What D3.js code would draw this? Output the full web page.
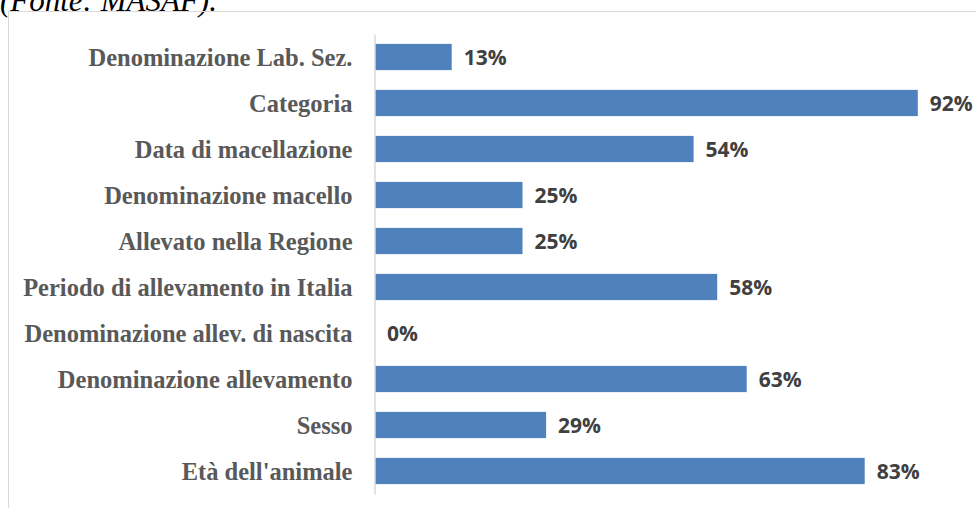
<!DOCTYPE html>
<html>
<head>
<meta charset="utf-8">
<script src="https://cdn.jsdelivr.net/npm/d3@7"></script>
<style>
  body { margin: 0; background: #fff; }
  svg { display: block; }
</style>
</head>
<body>
<svg id="chart"></svg>
<script>
const categories = [
  "Denominazione Lab. Sez.",
  "Categoria",
  "Data di macellazione",
  "Denominazione macello",
  "Allevato nella Regione",
  "Periodo di allevamento in Italia",
  "Denominazione allev. di nascita",
  "Denominazione allevamento",
  "Sesso",
  "Età dell'animale"
];
const values = [13, 92, 54, 25, 25, 58, 0, 63, 29, 83];
const sourceNote = "(Fonte: MASAF).";

const width = 976, height = 508;
const svg = d3.select("#chart").attr("width", width).attr("height", height);

// caption cut off at the top of the picture
svg.append("text")
  .attr("x", 0).attr("y", 11)
  .attr("font-family", "Liberation Serif")
  .attr("font-style", "italic")
  .attr("font-size", 31)
  .attr("fill", "#000")
  .text(sourceNote);

// chart frame
svg.append("rect")
  .attr("x", 8.5).attr("y", 11.5)
  .attr("width", 980).attr("height", 520)
  .attr("fill", "none")
  .attr("stroke", "#d9d9d9");

const x = d3.scaleLinear().domain([0, 100]).range([375, 965]);
const y = d3.scaleBand().domain(categories).range([34, 494]).paddingInner(0.43).paddingOuter(0.215);

const data = categories.map((c, i) => ({ name: c, value: values[i] }));

svg.append("g")
  .selectAll("rect")
  .data(data)
  .join("rect")
  .attr("x", x(0))
  .attr("y", d => y(d.name))
  .attr("width", d => x(d.value) - x(0))
  .attr("height", y.bandwidth())
  .attr("fill", "#4f81bd");

const yAxis = svg.append("g")
  .attr("transform", `translate(${x(0) - 0.5},0)`)
  .call(d3.axisLeft(y).tickSize(0).tickPadding(22));
yAxis.select(".domain").attr("stroke", "#d9d9d9").attr("stroke-width", 1.5);
yAxis.selectAll("text")
  .attr("dy", "0.36em")
  .attr("font-family", "Liberation Serif")
  .attr("font-weight", "bold")
  .attr("font-size", 24.5)
  .attr("fill", "#595959");

svg.append("g")
  .selectAll("text")
  .data(data)
  .join("text")
  .attr("x", d => x(d.value) + 12)
  .attr("y", d => y(d.name) + y.bandwidth() / 2)
  .attr("dy", "0.36em")
  .attr("font-family", "Open Sans")
  .attr("font-weight", "bold")
  .attr("font-size", 21)
  .attr("fill", "#404040")
  .text(d => d.value + "%");
</script>
</body>
</html>
